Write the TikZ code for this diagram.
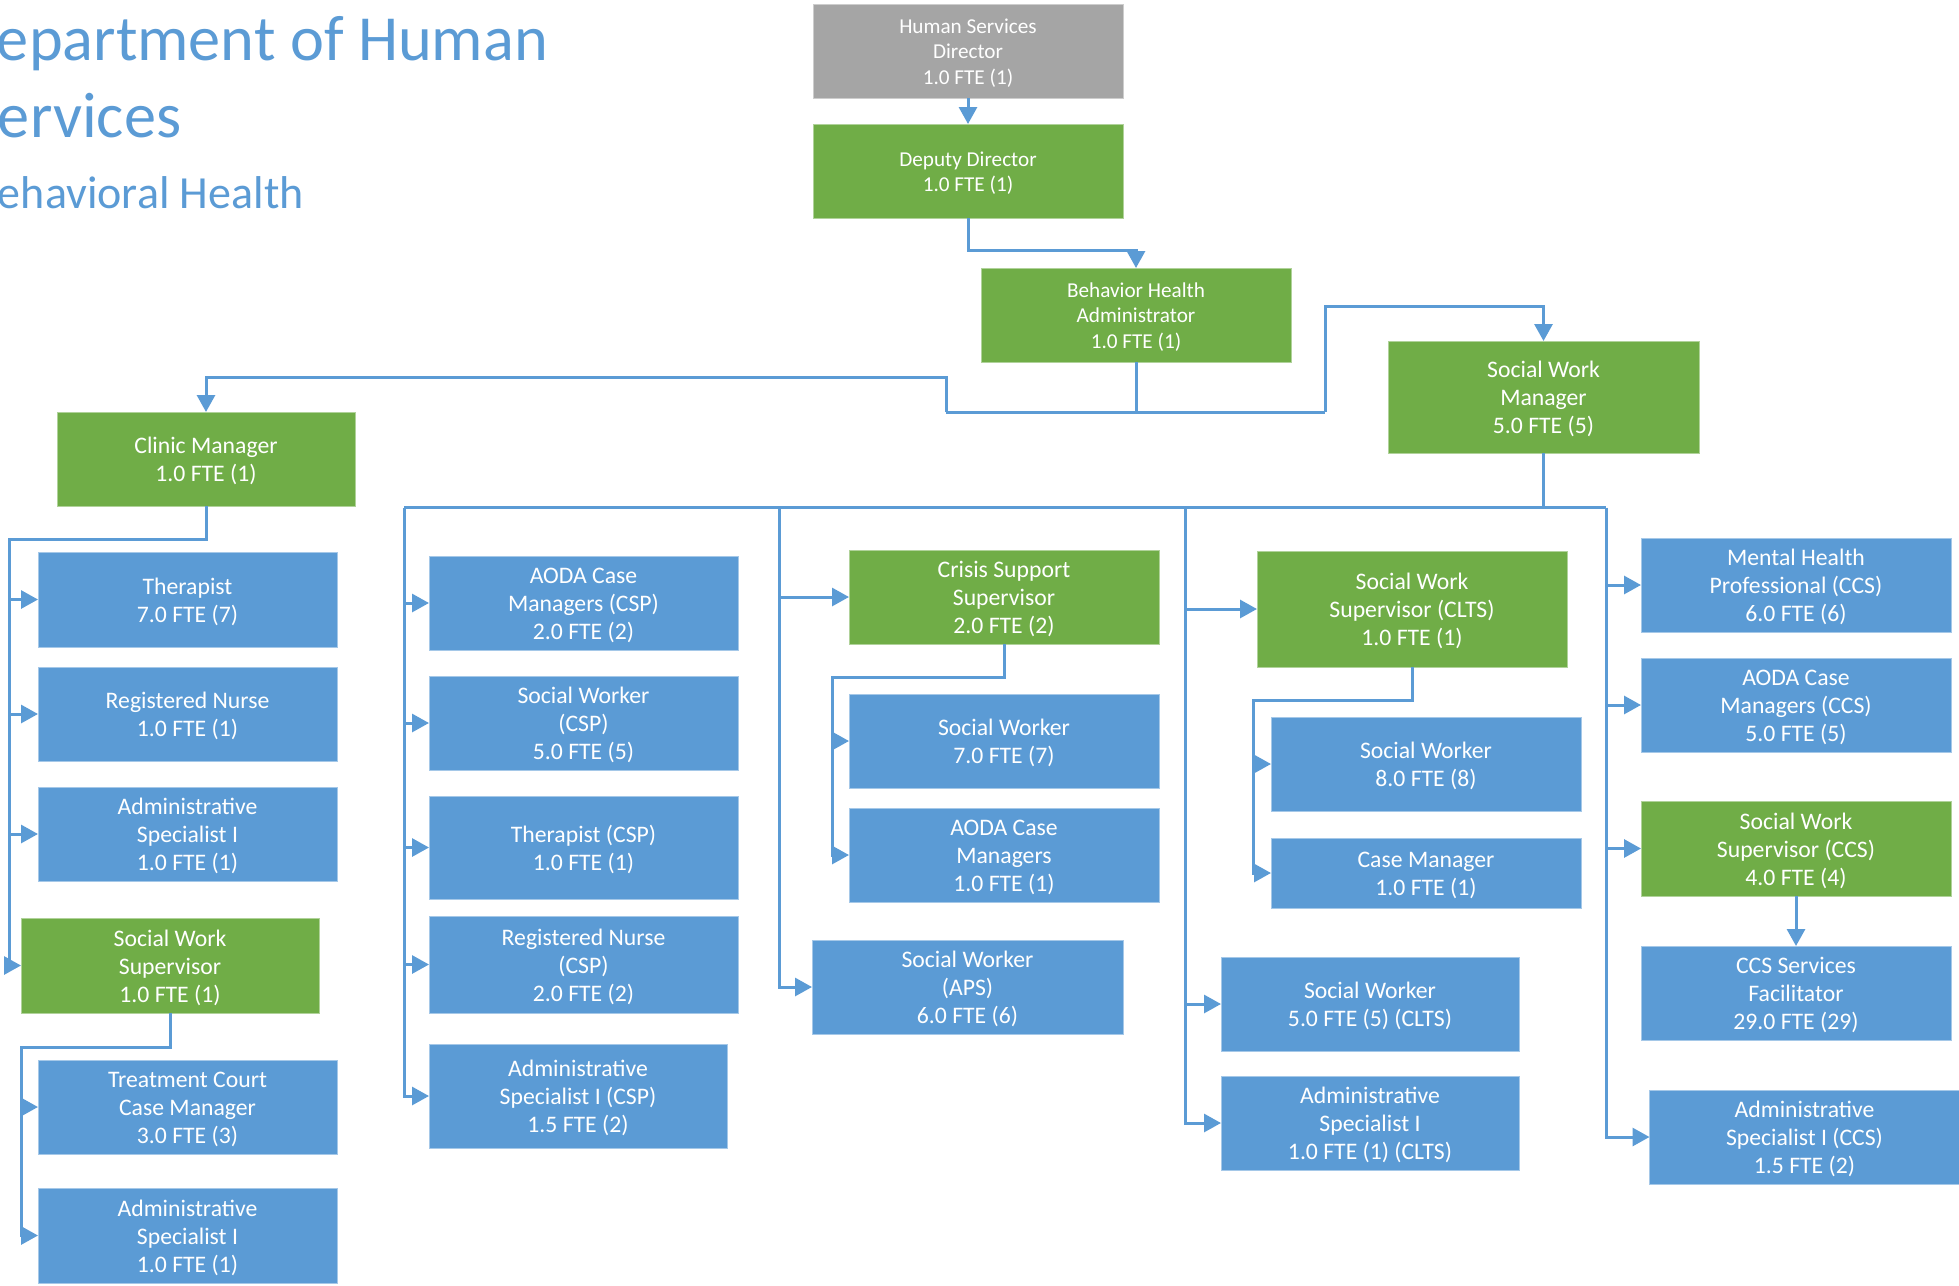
\documentclass[tikz,border=0pt]{standalone}
\usepackage{fontspec}
\setmainfont{Carlito}
\usetikzlibrary{arrows.meta}
\definecolor{boxblue}{HTML}{5B9BD5}
\definecolor{boxgreen}{HTML}{70AD47}
\definecolor{boxgray}{HTML}{A5A5A5}
\definecolor{linkblue}{HTML}{5B9BD5}
\definecolor{titleblue}{HTML}{5B9BD5}
\newcommand\bigtxt{\fontsize{23.7}{28}\selectfont}
\newcommand\smalltxt{\fontsize{21.2}{25.6}\selectfont}
\begin{document}
\begin{tikzpicture}[x=1pt,y=-1pt,
  unit/.style={rectangle, inner sep=0pt, outer sep=0pt, text=white, align=center, line width=1pt, font=\bigtxt, text depth=0pt},
  bluebox/.style={unit, fill=boxblue, draw=boxblue!55!white},
  greenbox/.style={unit, fill=boxgreen, draw=boxgreen!55!white},
  graybox/.style={unit, fill=boxgray, draw=boxgray!55!white},
  small/.style={font=\smalltxt},
  two/.style={text height=45.3pt},
  three/.style={text height=73.3pt},
  stwo/.style={text height=41.25pt},
  sthree/.style={text height=66.85pt},
  wh/.style 2 args={minimum width=#1pt, minimum height=#2pt},
  conn/.style={draw=linkblue, line width=3pt},
  arr/.style={conn, -{Triangle[length=17pt,width=18pt]}},
  titletxt/.style={inner sep=0pt, outer sep=0pt, text=titleblue, anchor=base west}
]
\useasboundingbox (0,0) rectangle (1959,1285);
\clip (0,0) rectangle (1959,1285);
\fill[white] (0,0) rectangle (1959,1285);

% titles
\node[titletxt, font=\fontsize{64.3}{70}\selectfont] (t1) at (-3,60) {epartment of Human};
\node[titletxt, font=\fontsize{64.3}{70}\selectfont] (t2) at (-2,137) {ervices};
\node[titletxt, font=\fontsize{46}{50}\selectfont] (t3) at (-2,208) {ehavioral Health};

% top
\node[graybox, small, sthree, wh={310}{94}] (hsd) at (968,51) {Human Services\\Director\\1.0 FTE (1)};
\node[greenbox, small, stwo, wh={310}{94}] (dd) at (968,171) {Deputy Director\\1.0 FTE (1)};
\node[greenbox, small, sthree, wh={310}{94}] (bha) at (1136,315) {Behavior Health\\Administrator\\1.0 FTE (1)};
\node[greenbox, three, wh={311}{112}] (swm) at (1543.5,397) {Social Work\\Manager\\5.0 FTE (5)};
\node[greenbox, two, wh={298}{94}] (cm) at (206,459) {Clinic Manager\\1.0 FTE (1)};

% column 1
\node[bluebox, two, wh={299}{95}] (ther) at (187.5,599.5) {Therapist\\7.0 FTE (7)};
\node[bluebox, two, wh={299}{94}] (rn) at (187.5,714) {Registered Nurse\\1.0 FTE (1)};
\node[bluebox, three, wh={299}{94}] (adm1) at (187.5,834) {Administrative\\Specialist I\\1.0 FTE (1)};
\node[greenbox, three, wh={298}{95}] (sws1) at (170,965.5) {Social Work\\Supervisor\\1.0 FTE (1)};
\node[bluebox, three, wh={299}{94}] (tccm) at (187.5,1107) {Treatment Court\\Case Manager\\3.0 FTE (3)};
\node[bluebox, three, wh={299}{95}] (adm2) at (187.5,1235.5) {Administrative\\Specialist I\\1.0 FTE (1)};

% column 2
\node[bluebox, three, wh={309}{94}] (aodacsp) at (583.5,603) {AODA Case\\Managers (CSP)\\2.0 FTE (2)};
\node[bluebox, three, wh={309}{94}] (swcsp) at (583.5,723) {Social Worker\\(CSP)\\5.0 FTE (5)};
\node[bluebox, two, wh={309}{103}] (thercsp) at (583.5,847.5) {Therapist (CSP)\\1.0 FTE (1)};
\node[bluebox, three, wh={309}{97}] (rncsp) at (583.5,964.5) {Registered Nurse\\(CSP)\\2.0 FTE (2)};
\node[bluebox, three, wh={298}{104}] (admcsp) at (578,1096) {Administrative\\Specialist I (CSP)\\1.5 FTE (2)};

% column 3
\node[greenbox, three, wh={310}{94}] (crisis) at (1004,597) {Crisis Support\\Supervisor\\2.0 FTE (2)};
\node[bluebox, two, wh={310}{94}] (sw7) at (1004,741) {Social Worker\\7.0 FTE (7)};
\node[bluebox, three, wh={310}{94}] (aoda) at (1004,855) {AODA Case\\Managers\\1.0 FTE (1)};
\node[bluebox, three, wh={311}{94}] (aps) at (967.5,987) {Social Worker\\(APS)\\6.0 FTE (6)};

% column 4
\node[greenbox, three, wh={310}{116}] (swsclts) at (1412,609) {Social Work\\Supervisor (CLTS)\\1.0 FTE (1)};
\node[bluebox, two, wh={310}{94}] (sw8) at (1426,764) {Social Worker\\8.0 FTE (8)};
\node[bluebox, two, wh={310}{70}] (casem) at (1426,873) {Case Manager\\1.0 FTE (1)};
\node[bluebox, two, wh={298}{94}] (sw5) at (1370,1004) {Social Worker\\5.0 FTE (5) (CLTS)};
\node[bluebox, three, wh={298}{94}] (admclts) at (1370,1123) {Administrative\\Specialist I\\1.0 FTE (1) (CLTS)};

% column 5
\node[bluebox, three, wh={310}{94}] (mhp) at (1796,585) {Mental Health\\Professional (CCS)\\6.0 FTE (6)};
\node[bluebox, three, wh={310}{94}] (aodaccs) at (1796,705) {AODA Case\\Managers (CCS)\\5.0 FTE (5)};
\node[greenbox, three, wh={310}{95}] (swsccs) at (1796,848.5) {Social Work\\Supervisor (CCS)\\4.0 FTE (4)};
\node[bluebox, three, wh={310}{94}] (ccssf) at (1796,993) {CCS Services\\Facilitator\\29.0 FTE (29)};
\node[bluebox, three, wh={310}{94}] (admccs) at (1804.5,1137) {Administrative\\Specialist I (CCS)\\1.5 FTE (2)};

% coordinates
\coordinate (bhaL) at (946,412);
\coordinate (bhaR) at (1325,412);
\coordinate (bhaLup) at (946,377);
\coordinate (bhaRup) at (1325,306.5);
\coordinate (cmbus) at (9,539);
\coordinate (swsbus) at (21,1047);
\coordinate (busL) at (404,507.5);
\coordinate (busR) at (1606,507.5);
\coordinate (c3) at (779,507.5);
\coordinate (c4) at (1185.5,507.5);
\coordinate (crbus) at (832,677.5);
\coordinate (clbus) at (1253.5,700);

% top connectors
\draw[arr] (hsd.south) -- (dd.north);
\draw[arr] (dd.south) -- ++(0,32) -| (bha.north);
\draw[conn] (bha.south) -- (bha.south |- bhaL);
\draw[conn] (bhaL) -- (bhaR);
\draw[arr] (bhaL) -- (bhaLup) -| (cm.north);
\draw[arr] (bhaR) -- (bhaRup) -| (swm.north);

% clinic manager
\draw[arr] (cm.south) |- (cmbus) |- (sws1.west);
\draw[arr] (cmbus |- ther.west) -- (ther.west);
\draw[arr] (cmbus |- rn.west) -- (rn.west);
\draw[arr] (cmbus |- adm1.west) -- (adm1.west);
\draw[arr] (sws1.south) |- (swsbus) |- (adm2.west);
\draw[arr] (swsbus |- tccm.west) -- (tccm.west);

% social work manager bus
\draw[conn] (swm.south) -- (swm.south |- busL);
\draw[conn] (busL) -- (busR);
\draw[arr] (busL) |- (admcsp.west);
\draw[arr] (busL |- aodacsp.west) -- (aodacsp.west);
\draw[arr] (busL |- swcsp.west) -- (swcsp.west);
\draw[arr] (busL |- thercsp.west) -- (thercsp.west);
\draw[arr] (busL |- rncsp.west) -- (rncsp.west);

\draw[arr] (c3) |- (aps.west);
\draw[arr] (c3 |- crisis.west) -- (crisis.west);
\draw[arr] (crisis.south) |- (crbus) |- (aoda.west);
\draw[arr] (crbus |- sw7.west) -- (sw7.west);

\draw[arr] (c4) |- (admclts.west);
\draw[arr] (c4 |- swsclts.west) -- (swsclts.west);
\draw[arr] (c4 |- sw5.west) -- (sw5.west);
\draw[arr] (swsclts.south) |- (clbus) |- (casem.west);
\draw[arr] (clbus |- sw8.west) -- (sw8.west);

\draw[arr] (busR) |- (admccs.west);
\draw[arr] (busR |- mhp.west) -- (mhp.west);
\draw[arr] (busR |- aodaccs.west) -- (aodaccs.west);
\draw[arr] (busR |- swsccs.west) -- (swsccs.west);
\draw[arr] (swsccs.south) -- (ccssf.north);
\end{tikzpicture}
\end{document}
